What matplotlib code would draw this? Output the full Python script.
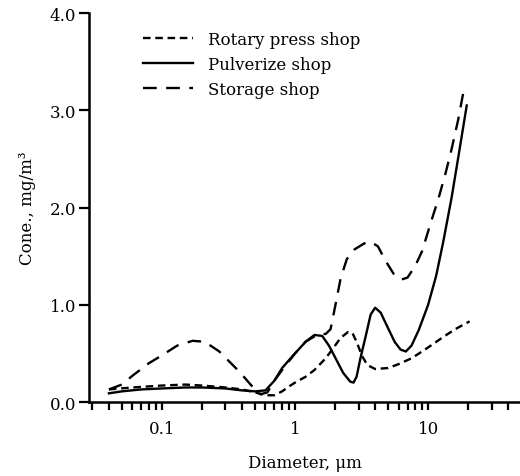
import numpy as np
import matplotlib
matplotlib.use("Agg")
import matplotlib.pyplot as plt
from matplotlib.ticker import LogLocator, FixedLocator, FixedFormatter, NullFormatter

# ── data ─────────────────────────────────────────────────────────────────────
rotary_d = [0.04, 0.06, 0.1, 0.15, 0.2, 0.3, 0.4, 0.5, 0.6, 0.7, 0.8, 0.9, 1.0,
            1.2, 1.4, 1.7, 1.95, 2.2, 2.5, 2.7, 2.9, 3.2, 3.5, 4.0, 5.0, 6.0,
            7.5, 9.0, 11.0, 13.0, 16.0, 20.5]
rotary_c = [0.13, 0.15, 0.17, 0.18, 0.17, 0.15, 0.13, 0.10, 0.07, 0.07, 0.11,
            0.16, 0.20, 0.26, 0.33, 0.45, 0.56, 0.66, 0.72, 0.71, 0.62, 0.47,
            0.38, 0.34, 0.35, 0.39, 0.45, 0.52, 0.60, 0.67, 0.75, 0.83]

pulver_d = [0.04, 0.05, 0.07, 0.1, 0.15, 0.2, 0.3, 0.4, 0.5, 0.6, 0.7, 0.8,
            0.9, 1.0, 1.2, 1.4, 1.6, 1.8, 2.0, 2.3, 2.6, 2.75, 2.9, 3.1, 3.4,
            3.7, 4.0, 4.4, 5.0, 5.6, 6.2, 6.8, 7.5, 8.5, 10.0, 11.5, 13.0,
            15.0, 17.0, 19.5]
pulver_c = [0.09, 0.11, 0.13, 0.14, 0.15, 0.15, 0.14, 0.12, 0.11, 0.12, 0.22,
            0.35, 0.43, 0.50, 0.62, 0.69, 0.68, 0.58, 0.46, 0.30, 0.21, 0.20,
            0.26, 0.45, 0.68, 0.90, 0.97, 0.92, 0.76, 0.62, 0.54, 0.52, 0.58,
            0.74, 1.00, 1.30, 1.65, 2.10, 2.55, 3.05]

storage_d = [0.04, 0.05, 0.06, 0.08, 0.1, 0.13, 0.17, 0.21, 0.27, 0.33, 0.39,
             0.45, 0.5, 0.55, 0.62, 0.7, 0.8, 1.0, 1.2, 1.5, 1.7, 1.85, 2.0,
             2.2, 2.45, 2.8, 3.3, 3.7, 4.2, 4.8, 5.5, 6.3, 7.0, 8.0, 9.0, 10.5,
             12.0, 13.5, 15.0, 16.8, 18.6]
storage_c = [0.13, 0.18, 0.27, 0.40, 0.48, 0.58, 0.63, 0.62, 0.52, 0.40, 0.30,
             0.20, 0.13, 0.08, 0.10, 0.22, 0.33, 0.50, 0.62, 0.70, 0.70, 0.75,
             0.98, 1.27, 1.47, 1.57, 1.63, 1.65, 1.60, 1.45, 1.32, 1.26, 1.28,
             1.40, 1.55, 1.85, 2.10, 2.35, 2.60, 2.90, 3.22]

labels = ["Rotary press shop", "Pulverize shop", "Storage shop"]
y_ticks = [0.0, 1.0, 2.0, 3.0, 4.0]
x_ticks = [0.1, 1, 10]
x_ticklabels = ["0.1", "1", "10"]

plt.rcParams["font.family"] = ["DejaVu Serif"]

fig = plt.figure(figsize=(5.2, 4.77), dpi=100)
ax = fig.add_axes([0.171, 0.155, 0.829, 0.8155])

lw = 1.7
ax.plot(rotary_d, rotary_c, color="black", lw=lw, linestyle=(0, (3.2, 2.0)),
        label=labels[0])
ax.plot(pulver_d, pulver_c, color="black", lw=lw, linestyle="-",
        label=labels[1])
ax.plot(storage_d, storage_c, color="black", lw=lw, linestyle=(0, (5.8, 4.0)),
        label=labels[2])

ax.set_xscale("log")
ax.set_xlim(0.0283, 49)
ax.set_ylim(0, 4.0)

ax.xaxis.set_major_locator(FixedLocator(x_ticks))
ax.xaxis.set_major_formatter(FixedFormatter(x_ticklabels))
ax.xaxis.set_minor_locator(LogLocator(base=10, subs=np.arange(2, 10)))
ax.xaxis.set_minor_formatter(NullFormatter())
ax.set_yticks(y_ticks)
ax.set_yticklabels([f"{v:.1f}" for v in y_ticks])

for s in ["top", "right"]:
    ax.spines[s].set_visible(False)
for s in ["left", "bottom"]:
    ax.spines[s].set_linewidth(1.8)

ax.tick_params(axis="both", which="both", direction="out", width=1.6,
               labelsize=12)
ax.tick_params(axis="x", which="both", length=6, pad=7)
ax.tick_params(axis="y", which="major", length=7, pad=2)

ax.set_xlabel("Diameter, μm", fontsize=12, labelpad=12)
ax.set_ylabel("Cone., mg/m³", fontsize=12, labelpad=10)

ax.legend(loc="upper left", bbox_to_anchor=(0.125, 0.955), frameon=False,
          fontsize=12, handlelength=3.0, handletextpad=0.9, labelspacing=0.5,
          borderpad=0, borderaxespad=0)

fig.savefig("out.png", dpi=100)
